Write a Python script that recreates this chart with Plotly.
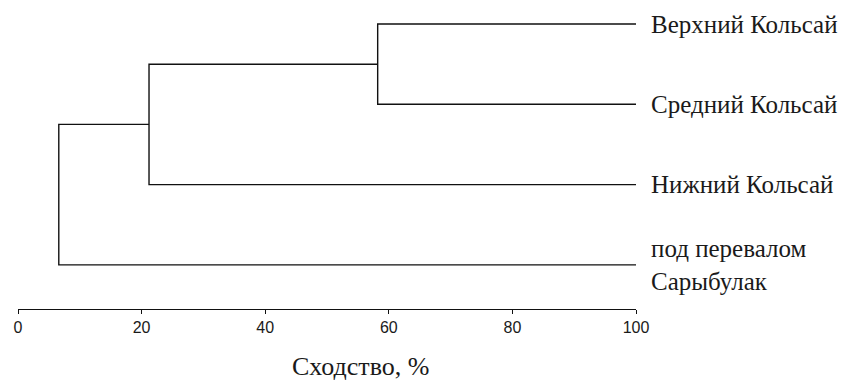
import plotly.graph_objects as go

# Leaves of the dendrogram, listed from top to bottom
leaves = ["Верхний Кольсай", "Средний Кольсай", "Нижний Кольсай", "под перевалом<br>Сарыбулак"]
# Similarity (%) at which clusters join: (cluster A, cluster B, level)
merges = [
    (0, 1, 58.2),   # Верхний + Средний
    ("m0", 2, 21.2),  # + Нижний
    ("m1", 3, 6.6),   # + под перевалом Сарыбулак
]
tick_vals = [0, 20, 40, 60, 80, 100]

SERIF = "Liberation Serif, Times New Roman, DejaVu Serif, serif"

n = len(leaves)
ypos = {i: n - 1 - i for i in range(n)}   # leaf vertical positions
xpos = {i: 100.0 for i in range(n)}       # leaves sit at 100 %

segments = []
for k, (a, b, level) in enumerate(merges):
    ya, yb = ypos[a], ypos[b]
    xa, xb = xpos[a], xpos[b]
    # horizontal arm for each child, plus the vertical joining bar
    segments.append(([xa, level, level, xb], [ya, ya, yb, yb]))
    key = f"m{k}"
    ypos[key] = (ya + yb) / 2
    xpos[key] = level

fig = go.Figure()
for xs, ys in segments:
    fig.add_trace(go.Scatter(
        x=xs, y=ys, mode="lines",
        line=dict(color="#111111", width=1.4),
        hoverinfo="skip", showlegend=False,
    ))

for i, name in enumerate(leaves):
    fig.add_annotation(
        x=100, y=ypos[i], xref="x", yref="y",
        text=name, showarrow=False, xanchor="left", yanchor="middle",
        xshift=13, align="left",
        font=dict(family=SERIF, size=25, color="#1a1a1a"),
    )

fig.add_annotation(
    x=(361 - 18) / 618, y=-0.19, xref="paper", yref="paper",
    text="Сходство, %", showarrow=False, xanchor="center", yanchor="middle",
    font=dict(family=SERIF, size=26, color="#1a1a1a"),
)

fig.update_layout(
    width=852, height=381,
    margin=dict(l=18, r=216, t=8, b=72),
    paper_bgcolor="white", plot_bgcolor="white",
    xaxis=dict(
        range=[0, 100], tickvals=tick_vals,
        showline=True, linecolor="#111111", linewidth=1.4,
        ticks="outside", ticklen=4, tickwidth=1.4, tickcolor="#111111",
        showgrid=False, zeroline=False,
        tickfont=dict(family="Liberation Sans Narrow, Liberation Sans, Arial", size=16, color="#1a1a1a"),
    ),
    yaxis=dict(range=[-0.55, 3.2], visible=False, showgrid=False, zeroline=False),
)

fig.write_html("out.html")
